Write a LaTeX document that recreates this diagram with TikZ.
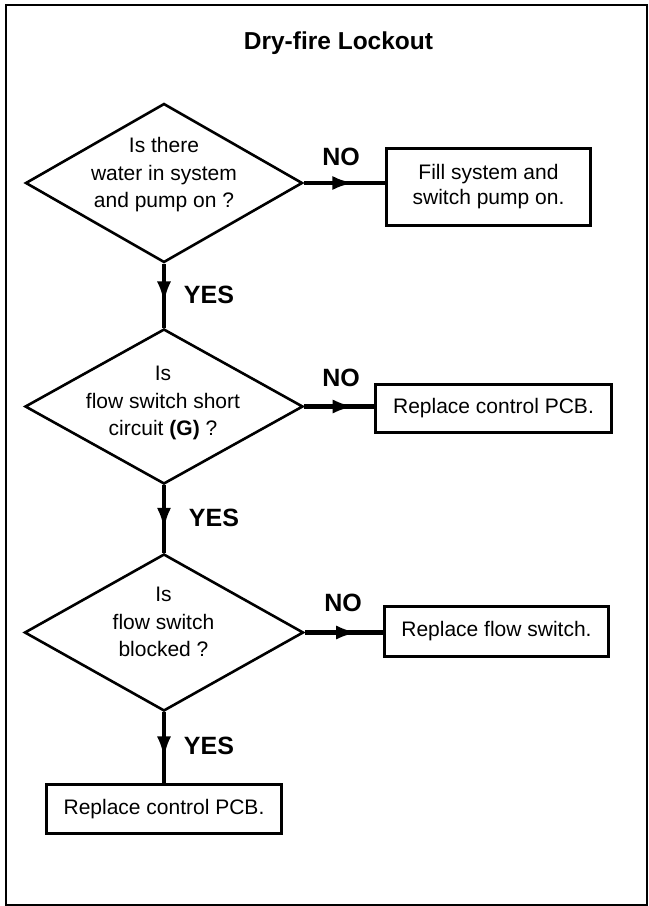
\documentclass[tikz,border=0pt]{standalone}
\usepackage{fontspec}
\setmainfont{Liberation Sans}
\usetikzlibrary{shapes.geometric,arrows.meta,decorations.markings}
\tikzset{
  dec/.style={shape=diamond, draw, line width=2.6bp, inner sep=0pt},
  qtext/.style={align=center, font=\fontsize{21bp}{27.5bp}\selectfont, inner sep=0pt},
  actbox/.style={draw, line width=2.6bp, align=center, font=\fontsize{21bp}{25bp}\selectfont, inner sep=0pt},
  lbl/.style={font=\bfseries\fontsize{25bp}{30bp}\selectfont, inner sep=0pt},
  ttl/.style={font=\bfseries\fontsize{24.5bp}{30bp}\selectfont, inner sep=0pt},
  conn/.style={line width=4.8bp, postaction={decorate},
    decoration={markings, mark=at position #1 with {\arrow{Latex[length=22bp,width=14bp]}}}},
  frameline/.style={line width=2.7bp}
}
\begin{document}
\begin{tikzpicture}[x=1bp,y=-1bp]
\useasboundingbox (0,0) rectangle (649,906);
\draw[frameline] (6,5) rectangle (647,905);

\node[ttl] (title) at (338.5,43) {Dry-fire Lockout};

\node[dec, minimum width=277bp, minimum height=159bp] (d1) at (164,183) {};
\node[qtext] (t1) at (164,175) {Is there\\water in system\\and pump on ?};
\node[dec, minimum width=278bp, minimum height=155bp] (d2) at (164,406.5) {};
\node[qtext] (t2) at (163,403) {Is\\flow switch short\\circuit \textbf{(G)} ?};
\node[dec, minimum width=279bp, minimum height=157bp] (d3) at (164,632.5) {};
\node[qtext] (t3) at (163.5,622) {Is\\flow switch\\blocked ?};

\node[actbox, minimum width=204bp, minimum height=77bp] (b1) at (488.5,187) {Fill system and\\switch pump on.};
\node[actbox, minimum width=236bp, minimum height=48bp] (b2) at (493.5,408.5) {Replace control PCB.};
\node[actbox, minimum width=224bp, minimum height=50bp] (b3) at (496.5,631.5) {Replace flow switch.};
\node[actbox, minimum width=235bp, minimum height=49bp] (b4) at (164,809) {Replace control PCB.};

\draw[conn=0.62] (d1.east) -- (d1.east -| b1.west);
\draw[conn=0.72] (d2.east) -- (d2.east -| b2.west);
\draw[conn=0.68] (d3.east) -- (d3.east -| b3.west);
\draw[conn=0.62] (d1.south) -- (d2.north);
\draw[conn=0.66] (d2.south) -- (d3.north);
\draw[conn=0.65] (d3.south) -- (b4.north);

\node[lbl] (no1) at (341,157) {NO};
\node[lbl] (no2) at (341,378) {NO};
\node[lbl] (no3) at (343,603) {NO};
\node[lbl] (yes1) at (209,295) {YES};
\node[lbl] (yes2) at (214,518) {YES};
\node[lbl] (yes3) at (209,746) {YES};
\end{tikzpicture}
\end{document}
